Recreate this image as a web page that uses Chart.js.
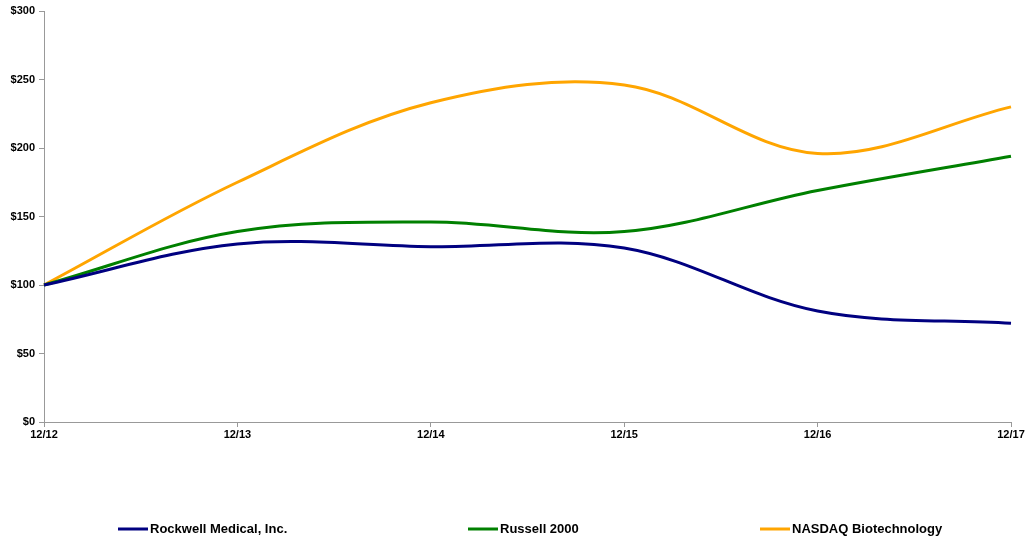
<!DOCTYPE html>
<html>
<head>
<meta charset="utf-8">
<script src="https://cdn.jsdelivr.net/npm/chart.js@4/dist/chart.umd.min.js"></script>
<style>
  html, body { margin: 0; padding: 0; background: #fff; }
  #wrap { width: 1027px; height: 538px; position: relative; }
</style>
</head>
<body>
<div id="wrap"><canvas id="c" width="1027" height="538"></canvas></div>
<script>
const categories = ['12/12', '12/13', '12/14', '12/15', '12/16', '12/17'];
const rockwell = [100, 130, 128, 127, 81, 72];
const russell = [100, 139, 146, 139, 169, 194];
const nasdaq = [100, 175, 233, 246, 196, 230];
const seriesNames = ['Rockwell Medical, Inc.', 'Russell 2000', 'NASDAQ Biotechnology'];
const seriesColors = ['#000080', '#008000', '#FFA500'];
const yTicks = [0, 50, 100, 150, 200, 250, 300];

const FONT = '"Liberation Sans", Arial, sans-serif';
const legendX = [118, 468, 760];
const legendY = 529;

const customLegend = {
  id: 'customLegend',
  afterDraw(chart) {
    const ctx = chart.ctx;
    ctx.save();
    chart.data.datasets.forEach((ds, i) => {
      const x = legendX[i];
      ctx.strokeStyle = ds.borderColor;
      ctx.lineWidth = 3;
      ctx.beginPath();
      ctx.moveTo(x, legendY);
      ctx.lineTo(x + 30, legendY);
      ctx.stroke();
      ctx.fillStyle = '#000';
      ctx.font = 'bold 13px ' + FONT;
      ctx.textBaseline = 'middle';
      ctx.textAlign = 'left';
      ctx.fillText(ds.label, x + 32, legendY);
    });
    ctx.restore();
  }
};

new Chart(document.getElementById('c'), {
  type: 'line',
  data: {
    labels: categories,
    datasets: [rockwell, russell, nasdaq].map((d, i) => ({
      label: seriesNames[i],
      data: d,
      borderColor: seriesColors[i],
      backgroundColor: seriesColors[i],
      borderWidth: 3,
      pointRadius: 0,
      tension: 0.35,
      fill: false
    }))
  },
  options: {
    responsive: false,
    animation: false,
    layout: { padding: { left: 0, right: 16, top: 11, bottom: 0 } },
    plugins: { legend: { display: false }, tooltip: { enabled: false } },
    scales: {
      x: {
        offset: false,
        grid: { display: true, drawOnChartArea: false, drawTicks: true, tickLength: 5, color: '#999999' },
        border: { display: true, color: '#999999', width: 1 },
        ticks: { color: '#000', font: { family: FONT, size: 11, weight: 'bold' }, padding: 1, maxRotation: 0, autoSkip: false },
        afterFit(scale) { scale.height = 116; }
      },
      y: {
        min: 0, max: 300,
        afterBuildTicks(scale) { scale.ticks = yTicks.map(v => ({ value: v })); },
        grid: { display: true, drawOnChartArea: false, drawTicks: true, tickLength: 5, color: '#999999' },
        border: { display: true, color: '#999999', width: 1 },
        ticks: { color: '#000', font: { family: FONT, size: 11, weight: 'bold' }, padding: 4, callback: v => '$' + v },
        afterFit(scale) { scale.width = 44; }
      }
    }
  },
  plugins: [customLegend]
});
</script>
</body>
</html>
